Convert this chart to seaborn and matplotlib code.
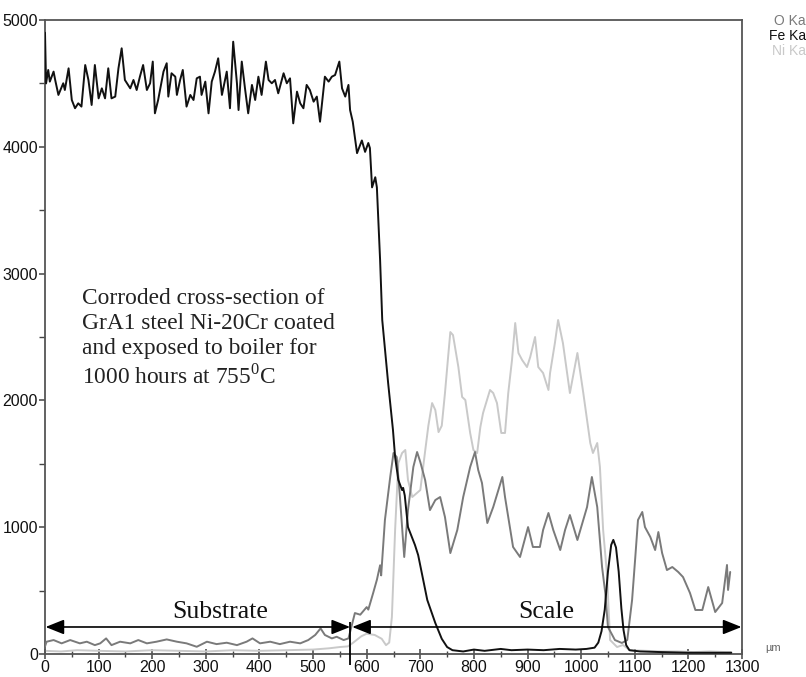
import matplotlib
matplotlib.use("Agg")
import matplotlib.pyplot as plt
import seaborn as sns
import pandas as pd
from matplotlib.ticker import MultipleLocator

# ---------------- data ----------------
fe_x = [0, 2, 6, 9, 16, 19, 25, 34, 37, 44,
        50, 56, 62, 68, 75, 81, 87, 93, 100, 106,
        112, 118, 124, 131, 137, 143, 149, 159, 165, 171,
        177, 183, 190, 196, 201, 205, 211, 221, 227, 230,
        236, 243, 246, 252, 257, 264, 271, 277, 283, 289,
        292, 299, 305, 311, 317, 323, 330, 339, 345, 351,
        358, 361, 367, 373, 379, 386, 392, 398, 404, 412,
        417, 423, 429, 435, 445, 451, 457, 463, 470, 476,
        482, 488, 494, 501, 507, 513, 522, 529, 535, 541,
        549, 554, 560, 566, 569, 574, 582, 591, 597, 603,
        606, 610, 616, 619, 625, 629, 640, 649, 653, 659,
        666, 668, 671, 677, 690, 696, 713, 728, 740, 750,
        760, 780, 800, 820, 850, 870, 900, 930, 960, 990,
        1010, 1025, 1032, 1038, 1044, 1050, 1056, 1060, 1065, 1070,
        1075, 1079, 1084, 1090, 1110, 1150, 1200, 1250, 1280]
fe_y = [4900, 4500, 4606, 4514, 4593, 4527, 4409, 4501, 4448, 4619,
        4369, 4304, 4343, 4317, 4645, 4527, 4330, 4645, 4382, 4461,
        4382, 4619, 4382, 4396, 4619, 4777, 4527, 4461, 4527, 4448,
        4553, 4645, 4448, 4501, 4672, 4264, 4369, 4593, 4659, 4396,
        4580, 4553, 4409, 4527, 4606, 4317, 4409, 4369, 4540, 4553,
        4409, 4514, 4264, 4514, 4593, 4698, 4409, 4593, 4304, 4829,
        4501, 4290, 4672, 4461, 4264, 4488, 4369, 4553, 4409, 4672,
        4527, 4501, 4527, 4422, 4580, 4501, 4540, 4185, 4435, 4343,
        4304, 4488, 4448, 4356, 4396, 4198, 4553, 4514, 4553, 4566,
        4672, 4461, 4396, 4488, 4290, 4198, 3950, 4050, 3960, 4030,
        3990, 3680, 3760, 3680, 3107, 2634, 2137, 1767, 1553, 1372,
        1293, 1310, 1250, 1001, 860, 780, 426, 244, 120, 55,
        30, 20, 35, 25, 40, 30, 35, 30, 40, 35,
        40, 50, 90, 180, 350, 650, 860, 900, 840, 650,
        360, 190, 70, 30, 20, 15, 10, 10, 10]

o_x = [0, 3, 16, 31, 47, 65, 78, 93, 103, 114,
       124, 140, 159, 174, 190, 208, 227, 246, 264, 283,
       302, 320, 339, 358, 376, 387, 401, 420, 438, 457,
       476, 491, 504, 514, 522, 535, 544, 557, 566, 578,
       588, 600, 603, 612, 619, 625, 627, 634, 644, 650,
       656, 662, 670, 677, 687, 694, 700, 709, 718, 728,
       737, 746, 756, 769, 780, 793, 802, 808, 815, 825,
       836, 853, 858, 873, 886, 901, 910, 923, 929, 939,
       948, 961, 970, 979, 993, 1011, 1020, 1030, 1039, 1045,
       1050, 1063, 1076, 1086, 1095, 1101, 1106, 1114, 1119, 1129,
       1138, 1144, 1151, 1160, 1170, 1181, 1190, 1203, 1213, 1226,
       1237, 1250, 1263, 1272, 1274, 1278]
o_y = [60, 97, 110, 84, 110, 84, 97, 70, 84, 123,
       70, 97, 84, 110, 84, 97, 115, 97, 84, 57,
       97, 78, 89, 70, 97, 123, 84, 97, 78, 97,
       84, 110, 150, 202, 150, 123, 136, 110, 123, 323,
       310, 370, 350, 480, 585, 700, 620, 1057, 1400, 1585,
       1553, 1238, 765, 1135, 1475, 1593, 1514, 1372, 1135, 1214,
       1238, 1080, 796, 978, 1238, 1475, 1593, 1451, 1349, 1033,
       1159, 1396, 1238, 844, 765, 1001, 844, 844, 978, 1112,
       978, 820, 978, 1096, 899, 1159, 1396, 1159, 686, 481,
       213, 110, 87, 110, 426, 765, 1057, 1120, 1001, 923,
       820, 962, 796, 662, 686, 647, 607, 481, 347, 347,
       528, 331, 402, 702, 505, 647]

ni_x = [0, 30, 60, 100, 150, 200, 250, 300, 350, 400,
        450, 500, 530, 550, 565, 575, 590, 600, 615, 628,
        636, 642, 647, 653, 659, 666, 672, 677, 685, 700,
        709, 715, 722, 728, 734, 740, 746, 752, 756, 761,
        771, 778, 784, 793, 799, 806, 812, 817, 830, 836,
        843, 851, 858, 864, 871, 877, 883, 890, 899, 905,
        914, 920, 929, 939, 942, 951, 957, 966, 979, 993,
        1004, 1017, 1022, 1030, 1035, 1041, 1048, 1054, 1067, 1078,
        1091, 1120, 1150, 1180, 1210, 1240, 1270, 1280]
ni_y = [25, 20, 30, 25, 20, 30, 25, 20, 30, 25,
        30, 35, 45, 55, 60, 90, 140, 160, 150, 120,
        70, 90, 292, 978, 1506, 1585, 1609, 1372, 1238, 1293,
        1600, 1800, 1979, 1924, 1750, 1800, 2058, 2350, 2539, 2515,
        2263, 2027, 2003, 1743, 1609, 1585, 1790, 1900, 2082, 2058,
        1979, 1743, 1743, 2058, 2318, 2610, 2374, 2318, 2263, 2342,
        2500, 2263, 2216, 2082, 2216, 2452, 2634, 2452, 2058, 2374,
        2058, 1664, 1585, 1664, 1475, 978, 639, 110, 55, 71,
        30, 25, 20, 20, 15, 20, 15, 15]

series_names = ["O Ka", "Fe Ka", "Ni Ka"]
series_colors = ["#7a7a7a", "#111111", "#c9c9c9"]
x_ticks = list(range(0, 1301, 100))
y_ticks = list(range(0, 5001, 1000))

assert len(fe_x) == len(fe_y) and len(o_x) == len(o_y) and len(ni_x) == len(ni_y)

df = pd.concat([
    pd.DataFrame({"x": o_x, "y": o_y, "el": "O Ka"}),
    pd.DataFrame({"x": fe_x, "y": fe_y, "el": "Fe Ka"}),
    pd.DataFrame({"x": ni_x, "y": ni_y, "el": "Ni Ka"}),
])

# ---------------- figure ----------------
sns.set_style("white")
plt.rcParams["font.family"] = ["Liberation Sans", "DejaVu Sans"]

W, H = 806, 677
fig = plt.figure(figsize=(W / 100, H / 100), dpi=100)
ax = fig.add_axes([45 / W, 1 - 654 / H, (742 - 45) / W, (654 - 20) / H])

cmap = dict(zip(series_names, series_colors))
for name, z in [("Ni Ka", 2), ("O Ka", 3), ("Fe Ka", 4)]:
    sub = df[df["el"] == name]
    sns.lineplot(data=sub, x="x", y="y", ax=ax, color=cmap[name],
                 lw=1.4, estimator=None, sort=True, zorder=z, legend=False)

ax.set_xlim(0, 1300)
ax.set_ylim(0, 5000)
ax.set_xlabel("")
ax.set_ylabel("")
ax.set_xticks(x_ticks)
ax.set_yticks(y_ticks)
ax.xaxis.set_minor_locator(MultipleLocator(50))
ax.yaxis.set_minor_locator(MultipleLocator(500))
ax.tick_params(axis="x", which="major", direction="inout", length=7, width=1.1,
               color="#444", labelsize=11.5, pad=1, labelcolor="#111")
ax.tick_params(axis="x", which="minor", direction="inout", length=4, width=1.0, color="#444")
ax.tick_params(axis="y", which="major", direction="out", length=4, width=1.1,
               color="#444", labelsize=11.5, pad=1, labelcolor="#111")
ax.tick_params(axis="y", which="minor", direction="out", length=4, width=1.0, color="#444")
ax.xaxis.set_ticks_position("bottom")
ax.yaxis.set_ticks_position("left")
for s in ax.spines.values():
    s.set_color("#555")
    s.set_linewidth(1.3)

# annotation text
ax.text(69, 2890,
        "Corroded cross-section of\nGrA1 steel Ni-20Cr coated\nand exposed to boiler for\n"
        "1000 hours at 755$^{\\mathregular{0}}$C",
        family="Liberation Serif", fontsize=16.8, va="top", ha="left",
        linespacing=1.26, color="#222")

# region arrows
arrow_y = 213
ax.annotate("", xy=(1, arrow_y), xytext=(569, arrow_y),
            arrowprops=dict(arrowstyle="<|-|>,head_length=0.75,head_width=0.3",
                            color="black", lw=1.2, mutation_scale=15,
                            shrinkA=0, shrinkB=0), zorder=6)
ax.annotate("", xy=(573, arrow_y), xytext=(1299, arrow_y),
            arrowprops=dict(arrowstyle="<|-|>,head_length=0.75,head_width=0.3",
                            color="black", lw=1.2, mutation_scale=15,
                            shrinkA=0, shrinkB=0), zorder=6)
ax.vlines(569, -87, 252, color="black", lw=1.3, clip_on=False, zorder=6)
ax.text(327, 331, "Substrate", family="Liberation Serif", fontsize=18.5,
        ha="center", va="center", color="#111")
ax.text(934, 331, "Scale", family="Liberation Serif", fontsize=18.5,
        ha="center", va="center", color="#111")

# unit label
fig.text(765 / W, 1 - 648 / H, "µm", fontsize=8, color="#666", ha="left", va="center")

# legend as coloured text
for i, (name, col) in enumerate(zip(series_names, series_colors)):
    fig.text(806 / W, 1 - (21 + 15 * i) / H, name, fontsize=10, color=col,
             ha="right", va="center")

fig.savefig("out.png", dpi=100)
